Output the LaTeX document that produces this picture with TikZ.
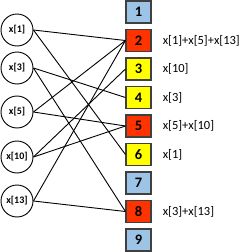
\documentclass[tikz,border=0pt]{standalone}
\usepackage{fontspec}
\setmainfont{Carlito}
\usetikzlibrary{positioning}
\definecolor{slotblue}{HTML}{9DC3E6}
\definecolor{slotred}{HTML}{FF3300}
\definecolor{slotyellow}{HTML}{FFFF00}
\tikzset{
  var/.style={draw, circle, line width=0.9pt, minimum size=32pt, inner sep=0pt, font=\fontsize{10}{11}\selectfont\bfseries},
  slot/.style={draw=black!75, line width=1.1pt, minimum width=25pt, minimum height=22pt, inner sep=0pt, font=\fontsize{14.5}{16}\selectfont\bfseries},
  sum/.style={anchor=west, inner sep=0pt, font=\fontsize{12.5}{14}\selectfont},
  link/.style={draw, line width=0.9pt}
}
\begin{document}
\begin{tikzpicture}[x=1pt, y=-1pt]
  \useasboundingbox (0,0) rectangle (249,252);
  % input variables
  \node[var] (x1) at (17,30) {x[1]};
  \node[var] (x3) at (17,68) {x[3]};
  \node[var] (x5) at (17,112) {x[5]};
  \node[var] (x10) at (17,157) {x[10]};
  \node[var] (x13) at (17,201) {x[13]};
  % slots
  \foreach \i/\c in {1/slotblue,2/slotred,3/slotyellow,4/slotyellow,5/slotred,6/slotyellow,7/slotblue,8/slotred,9/slotblue}
    \node[slot, fill=\c] (s\i) at (138.5,{12+28.5*(\i-1)}) {\i};
  % sums
  \node[sum, right=11pt of s2] (sum2) {x[1]+x[5]+x[13]};
  \node[sum, right=11pt of s3] (sum3) {x[10]};
  \node[sum, right=11pt of s4] (sum4) {x[3]};
  \node[sum, right=11pt of s5] (sum5) {x[5]+x[10]};
  \node[sum, right=11pt of s6] (sum6) {x[1]};
  \node[sum, right=11pt of s8] (sum8) {x[3]+x[13]};
  % links
  \foreach \a/\b in {x1/s2,x1/s6,x3/s4,x3/s8,x5/s2,x5/s5,x10/s3,x10/s5,x13/s2,x13/s8}
    \draw[link] (\a.east) -- (\b.west);
\end{tikzpicture}
\end{document}
